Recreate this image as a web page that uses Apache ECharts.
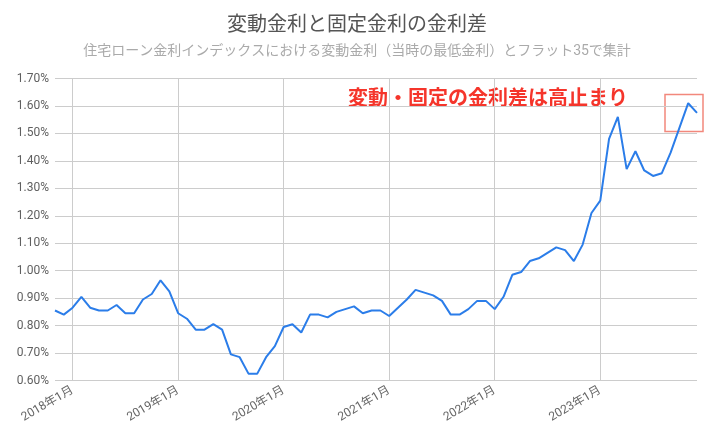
<!DOCTYPE html>
<html>
<head>
<meta charset="utf-8">
<script src="https://cdn.jsdelivr.net/npm/echarts@6/dist/echarts.min.js"></script>
<style>
html,body{margin:0;padding:0;background:#fff;}
#chart{width:714px;height:439px;}
</style>
</head>
<body>
<div id="chart"></div>
<script>
const titleText = '変動金利と固定金利の金利差';
const subtitleText = '住宅ローン金利インデックスにおける変動金利（当時の最低金利）とフラット35で集計';
const annotationText = '変動・固定の金利差は高止まり';

const months = [
  '2017年11月','2017年12月',
  '2018年1月','2018年2月','2018年3月','2018年4月','2018年5月','2018年6月','2018年7月','2018年8月','2018年9月','2018年10月','2018年11月','2018年12月',
  '2019年1月','2019年2月','2019年3月','2019年4月','2019年5月','2019年6月','2019年7月','2019年8月','2019年9月','2019年10月','2019年11月','2019年12月',
  '2020年1月','2020年2月','2020年3月','2020年4月','2020年5月','2020年6月','2020年7月','2020年8月','2020年9月','2020年10月','2020年11月','2020年12月',
  '2021年1月','2021年2月','2021年3月','2021年4月','2021年5月','2021年6月','2021年7月','2021年8月','2021年9月','2021年10月','2021年11月','2021年12月',
  '2022年1月','2022年2月','2022年3月','2022年4月','2022年5月','2022年6月','2022年7月','2022年8月','2022年9月','2022年10月','2022年11月','2022年12月',
  '2023年1月','2023年2月','2023年3月','2023年4月','2023年5月','2023年6月','2023年7月','2023年8月','2023年9月','2023年10月','2023年11月','2023年12月'
];

const spread = [
  0.855, 0.840,
  0.865, 0.905, 0.865, 0.855, 0.855, 0.875, 0.845, 0.845, 0.895, 0.915, 0.965, 0.925,
  0.845, 0.825, 0.785, 0.785, 0.805, 0.785, 0.695, 0.685, 0.625, 0.625, 0.685, 0.725,
  0.795, 0.805, 0.775, 0.840, 0.840, 0.830, 0.850, 0.860, 0.870, 0.845, 0.855, 0.855,
  0.835, 0.865, 0.895, 0.930, 0.920, 0.910, 0.890, 0.840, 0.840, 0.860, 0.890, 0.890,
  0.860, 0.905, 0.985, 0.995, 1.035, 1.045, 1.065, 1.085, 1.075, 1.035, 1.095, 1.210,
  1.255, 1.480, 1.560, 1.370, 1.435, 1.365, 1.345, 1.355, 1.430, 1.520, 1.610, 1.575
];

const yMin = 0.6, yMax = 1.7, yStep = 0.1;

const FONT = 'Roboto, "Noto Sans CJK JP", sans-serif';
const isJan = (idx) => /年1月$/.test(months[idx]);

const chart = echarts.init(document.getElementById('chart'), null, {renderer: 'canvas'});
chart.setOption({
  animation: false,
  backgroundColor: '#ffffff',
  title: [
    {text: titleText, left: 'center', top: 11,
     textStyle: {fontFamily: FONT, fontSize: 20, fontWeight: 'normal', color: '#555555'}},
    {text: subtitleText, left: 'center', top: 40,
     textStyle: {fontFamily: FONT, fontSize: 14, fontWeight: 'normal', color: '#aaaaaa'}}
  ],
  grid: {left: 55, right: 17, top: 78.5, bottom: 58.5, containLabel: false},
  xAxis: {
    type: 'category',
    data: months,
    boundaryGap: false,
    axisLine: {show: false},
    axisTick: {show: false},
    axisLabel: {
      interval: (idx) => isJan(idx),
      rotate: 30,
      margin: 9,
      color: '#666666',
      fontFamily: FONT,
      fontSize: 12
    },
    splitLine: {show: true, interval: (idx) => isJan(idx), lineStyle: {color: '#cccccc', width: 1}}
  },
  yAxis: {
    type: 'value',
    min: yMin, max: yMax, interval: yStep,
    axisLine: {show: false},
    axisTick: {show: false},
    axisLabel: {
      formatter: (v) => v.toFixed(2) + '%',
      color: '#5f5f5f', fontFamily: FONT, fontSize: 12, margin: 6
    },
    splitLine: {lineStyle: {color: '#cccccc', width: 1}}
  },
  series: [{
    type: 'line',
    data: spread,
    symbol: 'none',
    smooth: false,
    lineStyle: {color: '#2b7de9', width: 2},
    itemStyle: {color: '#2b7de9'}
  }],
  graphic: [
    {type: 'text', left: 348, top: 90,
     style: {text: annotationText, fill: '#f5352b', font: 'bold 20px ' + FONT}},
    {type: 'rect', shape: {x: 665, y: 94.5, width: 38, height: 37},
     style: {fill: 'none', stroke: '#f2887c', lineWidth: 1.5}}
  ]
});
</script>
</body>
</html>
